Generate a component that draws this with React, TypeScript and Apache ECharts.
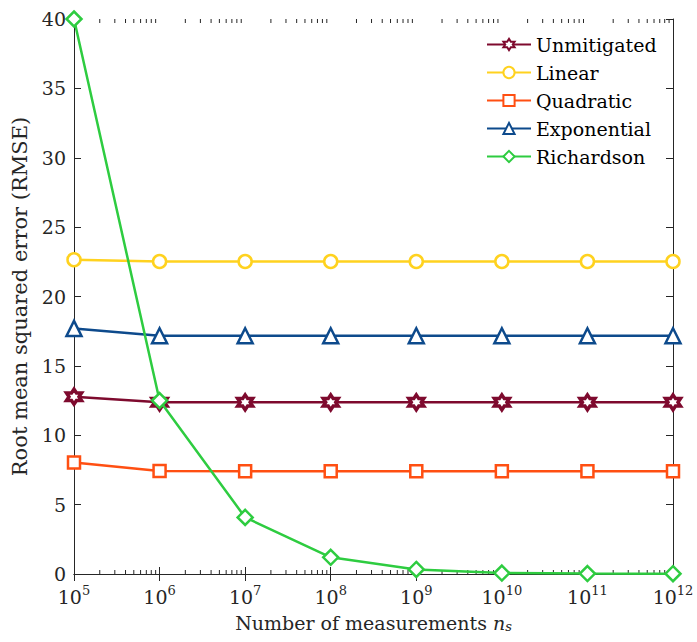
import React, { useEffect, useRef } from "react";
import * as echarts from "echarts";

const xValues = [1e5, 1e6, 1e7, 1e8, 1e9, 1e10, 1e11, 1e12];
const seriesNames = ["Unmitigated", "Linear", "Quadratic", "Exponential", "Richardson"];
const unmitigated = [12.78, 12.37, 12.37, 12.37, 12.37, 12.37, 12.37, 12.37];
const linear = [22.65, 22.52, 22.52, 22.52, 22.52, 22.52, 22.52, 22.52];
const quadratic = [8.03, 7.42, 7.4, 7.4, 7.4, 7.4, 7.4, 7.4];
const exponential = [17.7, 17.17, 17.17, 17.17, 17.17, 17.17, 17.17, 17.17];
const richardson = [40, 12.5, 4.08, 1.2, 0.33, 0.07, 0.03, 0.02];
const colors = ["#7E0A2E", "#FFD21F", "#FF4F12", "#0D4A8C", "#2ECC40"];
const yTicks = [0, 5, 10, 15, 20, 25, 30, 35, 40];

function hexagramPath(): string {
  const pts: string[] = [];
  const R = 10;
  const r = R / Math.sqrt(3);
  for (let k = 0; k < 12; k++) {
    const a = ((-90 + k * 30) * Math.PI) / 180;
    const rad = k % 2 === 0 ? R : r;
    pts.push(`${(R + rad * Math.cos(a)).toFixed(3)} ${(R + rad * Math.sin(a)).toFixed(3)}`);
  }
  return "path://M" + pts.join(" L") + " Z";
}

const FONT = "DejaVu Serif";

export default function App() {
  const ref = useRef<HTMLDivElement>(null);
  useEffect(() => {
    if (!ref.current) return;
    const chart = echarts.init(ref.current, undefined, { renderer: "svg" });
    const minorTicks: number[] = [];
    for (let e = 5; e < 12; e++) {
      for (let k = 2; k <= 9; k++) minorTicks.push(k * Math.pow(10, e));
    }
    const symbols = [hexagramPath(), "circle", "rect", "triangle", "diamond"];
    const sizes = [15, 13, 12, 15, 15];
    const borders = [3.5, 2.5, 2.5, 2.5, 2.5];
    const dataSets = [unmitigated, linear, quadratic, exponential, richardson];
    const lineSeries = seriesNames.map((name, i) => ({
      name,
      type: "line",
      data: xValues.map((x, j) => [x, dataSets[i][j]]),
      symbol: symbols[i],
      symbolSize: sizes[i],
      showAllSymbol: true,
      lineStyle: { color: colors[i], width: 2.5 },
      itemStyle: { color: "#ffffff", borderColor: colors[i], borderWidth: borders[i] },
      z: 3 + i,
    }));
    const axisLineStyle = { color: "#262626", width: 1 };
    const option: any = {
      animation: false,
      textStyle: { fontFamily: FONT },
      grid: { left: 74, right: 24, top: 19, bottom: 68, containLabel: false, outerBoundsMode: "none" },
      legend: {
        orient: "vertical",
        left: 484,
        top: 33,
        itemWidth: 44,
        itemHeight: 14,
        itemGap: 9,
        data: seriesNames,
        textStyle: { fontFamily: FONT, fontSize: 19, color: "#000" },
        backgroundColor: "#ffffff",
        padding: [2, 4, 2, 2],
      },
      xAxis: [
        {
          type: "log",
          logBase: 10,
          min: 1e5,
          max: 1e12,
          position: "bottom",
          name: "{a|Number of measurements }{i|n}{s|s}",
          nameLocation: "middle",
          nameGap: 38,
          nameTextStyle: {
            rich: {
              a: { fontFamily: FONT, fontSize: 19, color: "#262626" },
              i: { fontFamily: FONT, fontSize: 19, fontStyle: "italic", color: "#262626" },
              s: { fontFamily: FONT, fontSize: 13, fontStyle: "italic", color: "#262626", padding: [8, 0, 0, 0] },
            },
          },
          axisLine: { lineStyle: axisLineStyle },
          axisTick: { inside: true, length: 7, lineStyle: axisLineStyle },
          splitLine: { show: false },
          axisLabel: {
            margin: 10,
            formatter: (v: number) => `{b|10}{s|${Math.round(Math.log10(v))}}`,
            rich: {
              b: { fontFamily: FONT, fontSize: 19, color: "#262626" },
              s: { fontFamily: FONT, fontSize: 13, color: "#262626", padding: [0, 0, 12, 0] },
            },
          },
        },
        {
          type: "log",
          logBase: 10,
          min: 1e5,
          max: 1e12,
          position: "top",
          axisLine: { lineStyle: axisLineStyle },
          axisTick: { inside: true, length: 7, lineStyle: axisLineStyle },
          axisLabel: { show: false },
          splitLine: { show: false },
        },
      ],
      yAxis: [
        {
          type: "value",
          min: 0,
          max: 40,
          interval: 5,
          name: "Root mean squared error (RMSE)",
          nameLocation: "middle",
          nameGap: 35,
          nameTextStyle: { fontFamily: FONT, fontSize: 21, color: "#262626" },
          axisLine: { show: true, lineStyle: axisLineStyle },
          axisTick: { show: true, inside: true, length: 7, lineStyle: axisLineStyle },
          splitLine: { show: false },
          axisLabel: {
            margin: 8,
            fontFamily: FONT,
            fontSize: 19,
            color: "#262626",
            formatter: (v: number) => (yTicks.includes(v) ? String(v) : ""),
          },
        },
        {
          type: "value",
          min: 0,
          max: 40,
          interval: 5,
          position: "right",
          axisLine: { show: true, lineStyle: axisLineStyle },
          axisTick: { show: true, inside: true, length: 7, lineStyle: axisLineStyle },
          splitLine: { show: false },
          axisLabel: { show: false },
        },
      ],
      series: [
        {
          type: "custom",
          silent: true,
          xAxisIndex: 0,
          yAxisIndex: 0,
          data: minorTicks.map((x) => [x, 0]),
          renderItem: (params: any, api: any) => {
            const px = api.coord([api.value(0), 0])[0];
            const cs = params.coordSys;
            const bottom = cs.y + cs.height;
            const top = cs.y;
            const style = { stroke: "#262626", lineWidth: 1 };
            return {
              type: "group",
              children: [
                { type: "line", shape: { x1: px, y1: bottom, x2: px, y2: bottom - 4 }, style },
                { type: "line", shape: { x1: px, y1: top, x2: px, y2: top + 4 }, style },
              ],
            };
          },
          z: 1,
        },
        ...lineSeries,
      ],
    };
    chart.setOption(option);
    return () => chart.dispose();
  }, []);
  return (
    <div
      ref={ref}
      style={{ position: "fixed", left: 0, top: 0, width: 697, height: 642, background: "#fff" }}
    />
  );
}
